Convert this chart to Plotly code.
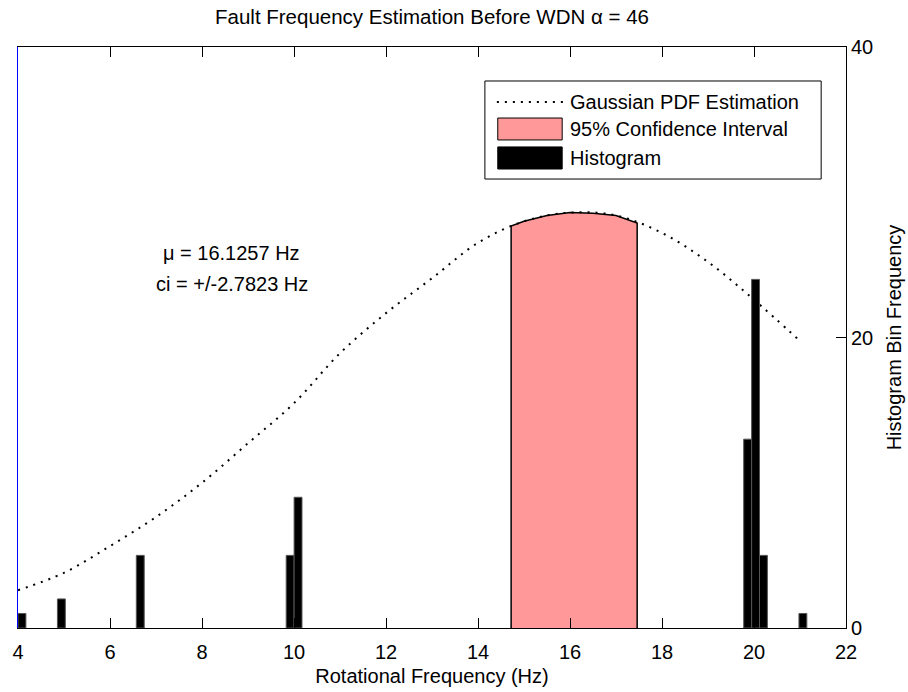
import plotly.graph_objects as go

# ---- data ----
pdf_x = [4, 5, 6, 7, 8, 9, 10, 11, 12, 13, 14, 15, 16, 17, 18, 19, 20, 21]
pdf_y = [0.0065, 0.0095, 0.0141, 0.0191, 0.0250, 0.0318, 0.0387, 0.0473,
         0.0542, 0.0602, 0.0663, 0.0700, 0.0715, 0.0710, 0.0680, 0.0630,
         0.0565, 0.0494]

ci_x = [14.72, 14.72, 15.0, 15.5, 16.0, 16.5, 17.0, 17.46, 17.46]
ci_y = [0.0, 0.0692, 0.0700, 0.0710, 0.0715, 0.0714, 0.0710, 0.0697, 0.0]

bin_centers = [4.086, 4.943, 6.658, 9.916, 10.088, 19.862, 20.034, 20.205, 21.063]
bin_counts = [1, 2, 5, 5, 9, 13, 24, 5, 1]
bin_width = 0.1715

x_ticks = [4, 6, 8, 10, 12, 14, 16, 18, 20, 22]
y2_ticks = [0, 20, 40]

title_text = "Fault Frequency Estimation Before WDN α = 46"
mu_text = "μ = 16.1257 Hz"
ci_text = "ci = +/-2.7823 Hz"
legend_labels = ["Gaussian PDF Estimation", "95% Confidence Interval", "Histogram"]

FONT = "Liberation Sans, Arial, sans-serif"
FS = 20
PINK = "#FF9999"


def f(size=FS):
    return dict(family=FONT, size=size, color="black")


fig = go.Figure()
fig.add_trace(go.Scatter(x=ci_x, y=ci_y, mode="lines", fill="toself",
                         fillcolor=PINK, line=dict(color="black", width=1.5),
                         yaxis="y", hoverinfo="skip", name=legend_labels[1]))
fig.add_trace(go.Scatter(x=pdf_x, y=pdf_y, mode="lines",
                         line=dict(color="black", width=2, dash="2px,6px", shape="spline"),
                         yaxis="y", name=legend_labels[0]))
fig.add_trace(go.Bar(x=bin_centers, y=bin_counts, width=bin_width,
                     marker=dict(color="black", line=dict(color="#555555", width=1)),
                     yaxis="y2", name=legend_labels[2]))

# manual MATLAB-style legend (layout decoration)
shapes = [
    dict(type="rect", xref="x", yref="y2", x0=14.15, x1=21.46, y0=30.91, y1=37.66,
         line=dict(color="black", width=1), fillcolor="white", layer="above"),
    dict(type="line", xref="x", yref="y2", x0=14.41, x1=15.93, y0=36.21, y1=36.21,
         line=dict(color="black", width=2, dash="2px,6px"), layer="above"),
    dict(type="rect", xref="x", yref="y2", x0=14.43, x1=15.83, y0=33.60, y1=35.11,
         line=dict(color="black", width=1), fillcolor=PINK, layer="above"),
    dict(type="rect", xref="x", yref="y2", x0=14.43, x1=15.83, y0=31.60, y1=33.12,
         line=dict(color="black", width=1), fillcolor="black", layer="above"),
]
annotations = [
    dict(text=legend_labels[0], x=15.96, y=36.21, xref="x", yref="y2", xanchor="left",
         yanchor="middle", showarrow=False, font=f()),
    dict(text=legend_labels[1], x=15.96, y=34.35, xref="x", yref="y2", xanchor="left",
         yanchor="middle", showarrow=False, font=f()),
    dict(text=legend_labels[2], x=15.96, y=32.36, xref="x", yref="y2", xanchor="left",
         yanchor="middle", showarrow=False, font=f()),
    dict(text=mu_text, x=8.65, y=25.8, xref="x", yref="y2", xanchor="center",
         yanchor="middle", showarrow=False, font=f()),
    dict(text=ci_text, x=8.65, y=23.7, xref="x", yref="y2", xanchor="center",
         yanchor="middle", showarrow=False, font=f()),
]

fig.update_layout(
    width=908, height=692,
    margin=dict(l=18, r=62, t=47, b=64),
    paper_bgcolor="white", plot_bgcolor="white",
    showlegend=False,
    font=f(),
    title=dict(text=title_text, x=0.5, xref="paper", xanchor="center",
               y=1 - 17 / 692, yref="container", yanchor="middle",
               font=f(20.5)),
    xaxis=dict(range=[4, 22], tickvals=x_ticks, ticks="inside", ticklen=10,
               tickcolor="black", showline=True, linecolor="black", linewidth=1,
               mirror="ticks", showgrid=False, zeroline=False, automargin=False,
               tickfont=f(), ticklabelstandoff=6,
               title=dict(text="Rotational Frequency (Hz)", standoff=6, font=f())),
    yaxis=dict(range=[0, 0.1], showticklabels=False, ticks="", showline=True,
               linecolor="blue", linewidth=1, showgrid=False, zeroline=False,
               automargin=False),
    yaxis2=dict(range=[0, 40], overlaying="y", side="right", tickvals=y2_ticks,
                ticks="inside", ticklen=10, tickcolor="black", showline=True,
                linecolor="black", linewidth=1, showgrid=False, zeroline=False,
                tickfont=f(), automargin=False,
                title=dict(text="Histogram Bin Frequency", standoff=14, font=f())),
    shapes=shapes, annotations=annotations,
)

fig.write_html("out.html")
